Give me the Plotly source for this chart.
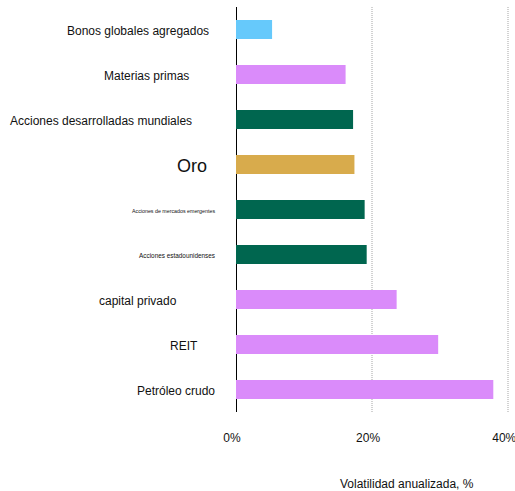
import plotly.graph_objects as go

# Annualised volatility by asset class
categories = [
    "Bonos globales agregados",
    "Materias primas",
    "Acciones desarrolladas mundiales",
    "Oro",
    "Acciones de mercados emergentes",
    "Acciones estadounidenses",
    "capital privado",
    "REIT",
    "Petróleo crudo",
]
volatility = [5.3, 16.1, 17.2, 17.4, 18.9, 19.2, 23.6, 29.7, 37.8]
tick_values = [0, 20, 40]
tick_labels = ["0%", "20%", "40%"]

BLUE = "#66C9FB"
PURPLE = "#DA8BFA"
GREEN = "#00664F"
GOLD = "#D8AB4C"
bar_colors = [BLUE, PURPLE, GREEN, GOLD, GREEN, GREEN, PURPLE, PURPLE, PURPLE]

# per-label font size and horizontal offset from the zero line (px)
label_sizes = [12, 12, 12, 18, 5.3, 6.4, 12, 12, 12]
label_shifts = [-25, -45, -42, -27, -19, -19, -57, -36, -19]

FONT = "Arial, 'Liberation Sans', sans-serif"

fig = go.Figure(
    go.Bar(
        x=volatility,
        y=categories,
        orientation="h",
        marker=dict(color=bar_colors, line=dict(width=0)),
        width=0.42,
        showlegend=False,
    )
)

for cat, size, shift in zip(categories, label_sizes, label_shifts):
    fig.add_annotation(
        x=0, xref="paper", y=cat, yref="y",
        text=cat, showarrow=False,
        xanchor="right", yanchor="middle", xshift=shift, yshift=-1,
        font=dict(family=FONT, size=size, color="#111111"),
    )

fig.add_annotation(
    x=0.62, xref="paper", y=-0.178, yref="paper",
    text="Volatilidad anualizada, %", showarrow=False,
    xanchor="center", yanchor="middle",
    font=dict(family=FONT, size=12, color="#111111"),
)

fig.update_xaxes(
    range=[0, 40.4],
    tickvals=tick_values,
    ticktext=tick_labels,
    showgrid=True,
    gridcolor="#D2D2D2",
    griddash="1px,1px",
    gridwidth=1.5,
    zeroline=True,
    zerolinecolor="#000000",
    zerolinewidth=1,
    showline=False,
    ticks="",
    ticklabelstandoff=17,
    ticklabelshift=-4,
    ticklabeloverflow="allow",
    automargin=False,
    tickfont=dict(family=FONT, size=12, color="#111111"),
    fixedrange=True,
)
fig.update_yaxes(
    autorange="reversed",
    showticklabels=False,
    showgrid=False,
    showline=False,
    ticks="",
    automargin=False,
    fixedrange=True,
)

fig.update_layout(
    width=515,
    height=491,
    margin=dict(l=236, r=4, t=7, b=79, autoexpand=False),
    plot_bgcolor="white",
    paper_bgcolor="white",
    bargap=0.58,
    font=dict(family=FONT),
)

fig.write_html("out.html")
